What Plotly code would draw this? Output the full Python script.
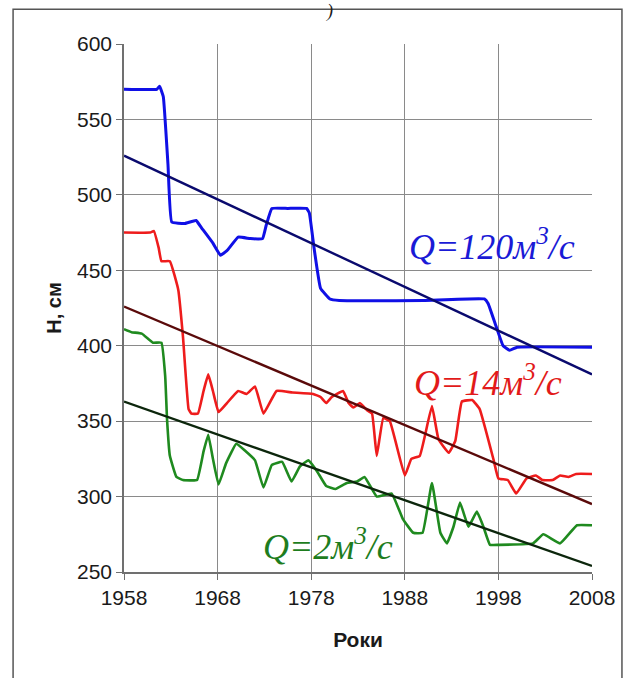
import plotly.graph_objects as go

# ---- data ----
blue_years = [1958, 1961.5, 1961.8, 1962.2, 1962.7, 1963.1, 1964.5, 1965.7, 1966.3, 1967.5, 1968.3,
              1969.0, 1970.2, 1971.5, 1972.8, 1973.2, 1973.8, 1975.5, 1977.5, 1977.8, 1978.3, 1979.0,
              1980.0, 1981.0, 1990, 1996.5, 1996.9, 1997.8, 1998.5, 1999.2, 2000, 2008]
blue_h = [570, 570, 572, 565, 520, 482, 481, 483, 478, 468, 460,
          463, 472, 471, 471, 480, 491, 491, 491, 488, 465, 438,
          431, 430, 430, 431, 428, 412, 400, 397, 399, 399]

red_years = [1958, 1960.8, 1961.2, 1961.7, 1962.0, 1962.9, 1963.8, 1964.3, 1964.9, 1965.2, 1965.9,
             1966.5, 1967.0, 1967.5, 1968.1, 1969.0, 1970.2, 1971.1, 1972.0, 1972.9, 1974.3, 1976,
             1978.2, 1979.0, 1979.6, 1980.2, 1981.4, 1982.0, 1982.5, 1983.2, 1984.0, 1984.5, 1985.0,
             1985.7, 1986.4, 1988.0, 1988.7, 1989.6, 1990.9, 1991.6, 1992.7, 1993.4, 1994.1, 1995.2,
             1996.0, 1997.5, 1998.0, 1999.0, 1999.9, 2001.0, 2002.0, 2002.7, 2003.8, 2004.6, 2005.5,
             2006.3, 2008]
red_h = [475, 475, 476, 465, 456, 456, 437, 406, 358, 355, 355,
         370, 381, 370, 356, 362, 370, 368, 373, 355, 370, 369,
         368, 366, 362, 366, 370, 362, 359, 362, 357, 355, 327,
         352, 350, 314, 325, 327, 360, 338, 329, 337, 363, 364,
         358, 324, 312, 311, 302, 312, 314, 311, 311, 314, 313,
         315, 315]

green_years = [1958, 1958.8, 1959.9, 1961.1, 1962.0, 1962.4, 1962.6, 1962.9, 1963.6, 1964.3, 1965.8,
               1966.5, 1967.0, 1967.5, 1968.1, 1968.9, 1970.0, 1971.0, 1972.0, 1972.9, 1973.8, 1974.9,
               1975.9, 1976.8, 1977.7, 1978.6, 1979.6, 1980.6, 1981.8, 1982.9, 1983.7, 1985.0, 1986.6,
               1987.8, 1988.9, 1989.9, 1990.9, 1991.8, 1992.5, 1993.2, 1993.9, 1994.8, 1995.7, 1996.4,
               1997.1, 1998, 2001.7, 2002.8, 2004.6, 2006.4, 2008]
green_h = [411, 409, 408, 402, 402, 380, 351, 327, 313, 311, 311,
           330, 341, 325, 308, 322, 335, 330, 324, 306, 321, 323,
           310, 320, 324, 317, 307, 305, 309, 310, 313, 300, 302,
           285, 276, 276, 309, 276, 269, 280, 296, 280, 290, 280,
           268, 268, 269, 275, 269, 281, 281]

trend_years = [1958, 2008]
blue_trend = [526, 381]
red_trend = [426, 295]
green_trend = [363, 254]

x_ticks = [1958, 1968, 1978, 1988, 1998, 2008]
y_ticks = [250, 300, 350, 400, 450, 500, 550, 600]

labels = ["Q=120м<sup>3</sup>/с", "Q=14м<sup>3</sup>/с", "Q=2м<sup>3</sup>/с"]
label_x = [1997.3, 1996.9, 1979.8]
label_y = [467, 377, 268]
label_colors = ["#1a1ad6", "#e21a1a", "#1e7d1e"]

fig = go.Figure()
fig.add_trace(go.Scatter(x=blue_years, y=blue_h, mode="lines",
                         line=dict(color="#1010e6", width=3, shape="spline", smoothing=0.3)))
fig.add_trace(go.Scatter(x=trend_years, y=blue_trend, mode="lines",
                         line=dict(color="#0a0a6e", width=2.4)))
fig.add_trace(go.Scatter(x=red_years, y=red_h, mode="lines",
                         line=dict(color="#ee1c1c", width=2.6, shape="spline", smoothing=0.3)))
fig.add_trace(go.Scatter(x=trend_years, y=red_trend, mode="lines",
                         line=dict(color="#5a0a0a", width=2.4)))
fig.add_trace(go.Scatter(x=green_years, y=green_h, mode="lines",
                         line=dict(color="#1f8a1f", width=2.6, shape="spline", smoothing=0.3)))
fig.add_trace(go.Scatter(x=trend_years, y=green_trend, mode="lines",
                         line=dict(color="#0c260c", width=2.4)))

for t, lx, ly, c in zip(labels, label_x, label_y, label_colors):
    fig.add_annotation(x=lx, y=ly, text=t, showarrow=False,
                       font=dict(family="Liberation Serif", size=36, color=c, style="italic"))

# outer frame
fig.add_shape(type="rect", xref="paper", yref="paper",
              x0=-0.237, x1=1.064, y0=-0.25, y1=1.066,
              line=dict(color="#555555", width=1.5), layer="below")
fig.add_annotation(xref="paper", yref="paper", x=0.44, y=1.083, text=")", showarrow=False,
                   yanchor="top", borderpad=0,
                   font=dict(family="Liberation Serif", size=18, color="#1a1a1a", style="italic"))

axis_common = dict(showgrid=True, gridcolor="#8a8a8a", gridwidth=1,
                   showline=True, linecolor="#707070", linewidth=1.5,
                   ticks="outside", ticklen=6, tickcolor="#707070",
                   tickfont=dict(family="Liberation Sans", size=21, color="#1a1a1a"),
                   zeroline=False)

fig.update_xaxes(range=[1958, 2008], tickvals=x_ticks, ticktext=[str(v) for v in x_ticks],
                 title=dict(text="<b>Роки</b>", font=dict(family="Liberation Sans", size=21, color="#1a1a1a"),
                            standoff=24),
                 mirror=False, **axis_common)
fig.update_yaxes(range=[250, 600], tickvals=y_ticks,
                 title=dict(text="<b>H, см</b>", font=dict(family="Liberation Sans", size=20, color="#1a1a1a"),
                            standoff=10),
                 **axis_common)

fig.update_layout(width=636, height=678, showlegend=False,
                  margin=dict(l=124, r=44, t=44, b=106),
                  plot_bgcolor="white", paper_bgcolor="white")

fig.write_html("out.html")
